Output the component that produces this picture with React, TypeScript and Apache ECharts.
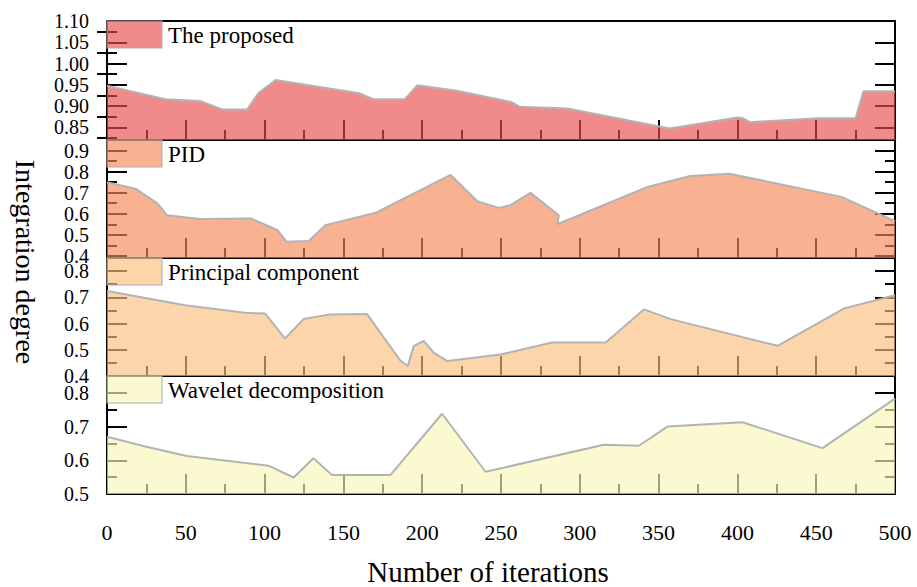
import React, { useEffect, useRef } from "react";
import * as echarts from "echarts";

const FONT = "Liberation Serif";

// ---------- data ----------
const seriesNames = ["The proposed", "PID", "Principal component", "Wavelet decomposition"];

const proposedData = [
  [0, 0.948], [37, 0.916], [59, 0.912], [73, 0.892], [89, 0.892], [96, 0.93], [107, 0.961],
  [160, 0.93], [169, 0.916], [189, 0.916], [197, 0.949], [222, 0.936], [256, 0.91], [262, 0.898],
  [292, 0.894], [357, 0.847], [400, 0.873], [403, 0.872], [408, 0.862], [451, 0.871],
  [475, 0.871], [480, 0.935], [500, 0.935],
];
const pidData = [
  [0, 0.75], [18, 0.719], [32, 0.649], [38, 0.593], [59, 0.575], [91, 0.578], [108, 0.523],
  [114, 0.467], [128, 0.471], [138.5, 0.546], [171, 0.606], [218, 0.784], [235, 0.659],
  [248.6, 0.628], [256, 0.641], [268.7, 0.699], [286.7, 0.593], [285.7, 0.55], [343, 0.727],
  [370, 0.779], [395, 0.79], [466, 0.68], [500, 0.565],
];
const principalData = [
  [0, 0.724], [49.6, 0.67], [87.7, 0.641], [100.4, 0.638], [113, 0.543], [124.7, 0.617],
  [141.7, 0.635], [165, 0.636], [186, 0.46], [190.8, 0.437], [194.7, 0.515], [201, 0.534],
  [207.4, 0.488], [216, 0.457], [249.7, 0.482], [282.5, 0.528], [316.4, 0.528], [340.7, 0.654],
  [357.7, 0.617], [425.5, 0.515], [467.8, 0.658], [500, 0.708],
];
const waveletData = [
  [0, 0.67], [25, 0.64], [50.6, 0.613], [102.5, 0.584], [118.4, 0.549], [131, 0.606],
  [142.8, 0.556], [179.8, 0.556], [212.6, 0.738], [240.2, 0.566], [315.3, 0.646],
  [337.5, 0.643], [355.6, 0.7], [403.2, 0.713], [454, 0.636], [500, 0.783],
];
const allData = [proposedData, pidData, principalData, waveletData];

const yMins = [0.82, 0.39, 0.4, 0.5];
const yMaxs = [1.1, 0.95, 0.85, 0.85];
const yMajorTicks = [
  [0.85, 0.9, 0.95, 1.0, 1.05, 1.1],
  [0.4, 0.5, 0.6, 0.7, 0.8, 0.9],
  [0.4, 0.5, 0.6, 0.7, 0.8],
  [0.5, 0.6, 0.7, 0.8],
];
const yMinorTicks = [
  [0.825, 0.875, 0.925, 0.975, 1.025, 1.075],
  [0.45, 0.55, 0.65, 0.75, 0.85],
  [0.45, 0.55, 0.65, 0.75],
  [0.55, 0.65, 0.75],
];
const yDecimals = [2, 1, 1, 1];
const xMin = 0;
const xMax = 500;
const xInterval = 50;

const fillColors = ["#E94D4D", "#F68956", "#FABF7C", "#F7F6B5"];

// ---------- layout ----------
const LEFT = 107;
const RIGHT = 22;
const tops = [21, 140, 258, 376];
const heights = [119, 118, 118, 118];
const FILL_OPACITY = 0.65;

export default function App() {
  const ref = useRef<HTMLDivElement>(null);

  useEffect(() => {
    if (!ref.current) return;
    const chart = echarts.init(ref.current, undefined, { renderer: "svg" });

    const black = { color: "#000", width: 2 };
    const grids: any[] = [];
    const xAxes: any[] = [];
    const yAxes: any[] = [];
    const series: any[] = [];
    const graphics: any[] = [];

    for (let i = 0; i < 4; i++) {
      grids.push({ left: LEFT, right: RIGHT, top: tops[i], height: heights[i] });

      const xIdx = xAxes.length;
      xAxes.push({
        type: "value",
        gridIndex: i,
        min: xMin,
        max: xMax,
        interval: xInterval,
        position: "bottom",
        axisLine: { show: true, onZero: false, lineStyle: black },
        axisTick: { show: true, inside: true, length: 20, lineStyle: black },
        minorTick: { show: true, splitNumber: 2, length: 10, lineStyle: black },
        splitLine: { show: false },
        axisLabel: {
          show: i === 3,
          showMinLabel: true,
          showMaxLabel: true,
          hideOverlap: false,
          fontSize: 22,
          fontFamily: FONT,
          color: "#000",
          margin: 27,
        },
      });
      if (i === 0) {
        xAxes.push({
          type: "value",
          gridIndex: i,
          min: xMin,
          max: xMax,
          position: "top",
          axisLine: { show: true, onZero: false, lineStyle: black },
          axisTick: { show: false },
          axisLabel: { show: false },
          splitLine: { show: false },
        });
      }

      const yIdx = yAxes.length;
      const base = {
        type: "value",
        gridIndex: i,
        min: yMins[i],
        max: yMaxs[i],
        splitLine: { show: false },
      };
      yAxes.push({
        ...base,
        position: "left",
        axisLine: { show: true, onZero: false, lineStyle: black },
        axisTick: { show: true, inside: true, length: 20, customValues: yMajorTicks[i], lineStyle: black },
        axisLabel: {
          show: true,
          customValues: yMajorTicks[i],
          showMinLabel: true,
          showMaxLabel: true,
          hideOverlap: false,
          formatter: (v: number) => Number(v).toFixed(yDecimals[i]),
          fontSize: 20,
          lineHeight: 18,
          fontFamily: FONT,
          color: "#000",
          margin: 18,
        },
      });
      yAxes.push({
        ...base,
        position: "left",
        axisLine: { show: false },
        axisTick: { show: true, inside: true, length: 10, customValues: yMinorTicks[i], lineStyle: black },
        axisLabel: { show: false },
      });
      yAxes.push({
        ...base,
        position: "right",
        axisLine: { show: true, onZero: false, lineStyle: black },
        axisTick: { show: true, inside: true, length: 20, customValues: yMajorTicks[i], lineStyle: black },
        axisLabel: { show: false },
      });
      yAxes.push({
        ...base,
        position: "right",
        axisLine: { show: false },
        axisTick: { show: true, inside: true, length: 10, customValues: yMinorTicks[i], lineStyle: black },
        axisLabel: { show: false },
      });

      series.push({
        type: "line",
        name: seriesNames[i],
        xAxisIndex: xIdx,
        yAxisIndex: yIdx,
        data: allData[i],
        symbol: "none",
        lineStyle: { color: "#b3b3b3", width: 2 },
        areaStyle: { color: fillColors[i], opacity: FILL_OPACITY, origin: "start" },
        z: 2,
      });

      graphics.push({
        type: "rect",
        z: 10,
        shape: { x: LEFT, y: tops[i], width: 55, height: 27 },
        style: { fill: fillColors[i], opacity: FILL_OPACITY, stroke: "#aaaaaa", lineWidth: 1.5 },
      });
      graphics.push({
        type: "text",
        z: 10,
        x: 168,
        y: tops[i] + 14,
        style: {
          text: seriesNames[i],
          fontSize: 23,
          fontFamily: FONT,
          fill: "#000",
          align: "left",
          verticalAlign: "middle",
        },
      });
    }

    graphics.push({
      type: "text",
      x: 25,
      y: 262,
      rotation: -Math.PI / 2,
      style: {
        text: "Integration degree",
        fontSize: 28,
        fontFamily: FONT,
        fill: "#000",
        align: "center",
        verticalAlign: "middle",
      },
    });
    graphics.push({
      type: "text",
      x: 488,
      y: 572,
      style: {
        text: "Number of iterations",
        fontSize: 29,
        fontFamily: FONT,
        fill: "#000",
        align: "center",
        verticalAlign: "middle",
      },
    });

    chart.setOption({
      animation: false,
      backgroundColor: "#fff",
      textStyle: { fontFamily: FONT },
      grid: grids,
      xAxis: xAxes,
      yAxis: yAxes,
      series,
      graphic: graphics,
    });

    return () => chart.dispose();
  }, []);

  return (
    <div
      ref={ref}
      style={{ position: "absolute", left: 0, top: 0, width: 917, height: 587 }}
    />
  );
}
